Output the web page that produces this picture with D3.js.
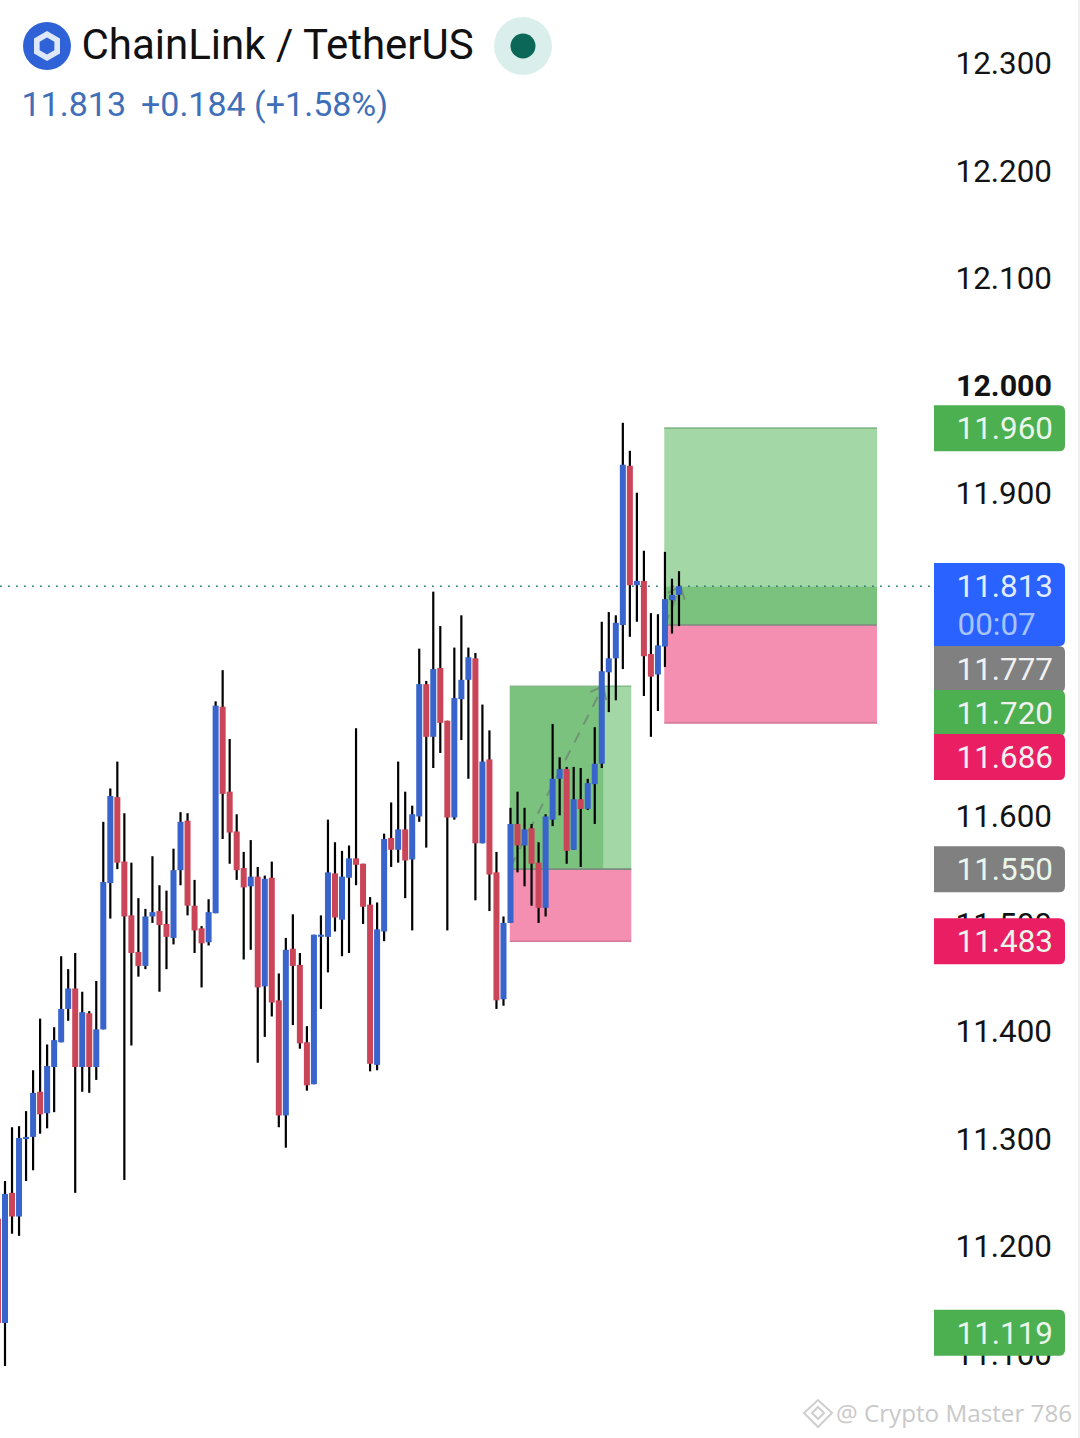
<!DOCTYPE html>
<html>
<head>
<meta charset="utf-8">
<script src="https://cdnjs.cloudflare.com/ajax/libs/d3/7.8.5/d3.min.js"></script>
<style>html,body{margin:0;padding:0;background:#fff}svg{display:block}text{font-family:Roboto,sans-serif}</style>
</head>
<body>
<svg id="c" width="1080" height="1438"></svg>
<script>
// candle index runs from -1 (clipped at the left edge) to 96
const opens=[11.225,11.128,11.249,11.227,11.299,11.301,11.343,11.323,11.366,11.389,11.420,11.439,11.366,11.416,11.366,11.401,11.537,11.617,11.557,11.507,11.473,11.460,11.506,11.511,11.499,11.486,11.549,11.595,11.516,11.495,11.482,11.509,11.701,11.622,11.585,11.551,11.534,11.543,11.441,11.542,11.428,11.321,11.476,11.461,11.389,11.350,11.488,11.487,11.546,11.503,11.542,11.560,11.555,11.517,11.368,11.492,11.579,11.568,11.587,11.559,11.599,11.722,11.673,11.737,11.688,11.598,11.708,11.726,11.746,11.574,11.652,11.547,11.429,11.500,11.592,11.572,11.588,11.556,11.514,11.596,11.634,11.643,11.568,11.615,11.606,11.629,11.648,11.733,11.746,11.777,11.925,11.814,11.818,11.750,11.731,11.757,11.800,11.805];
const highs=[11.240,11.260,11.310,11.311,11.325,11.363,11.411,11.387,11.403,11.469,11.457,11.472,11.436,11.418,11.446,11.594,11.625,11.650,11.602,11.556,11.523,11.513,11.562,11.535,11.530,11.569,11.603,11.602,11.540,11.497,11.522,11.706,11.735,11.671,11.601,11.566,11.577,11.552,11.544,11.557,11.453,11.486,11.508,11.472,11.404,11.489,11.507,11.596,11.575,11.567,11.572,11.681,11.555,11.524,11.519,11.583,11.612,11.650,11.622,11.609,11.755,11.725,11.808,11.776,11.688,11.756,11.786,11.756,11.751,11.703,11.679,11.566,11.506,11.607,11.622,11.607,11.592,11.575,11.601,11.685,11.654,11.645,11.645,11.644,11.634,11.682,11.780,11.789,11.786,11.965,11.939,11.900,11.846,11.788,11.787,11.845,11.820,11.827];
const lows=[11.120,11.088,11.211,11.209,11.260,11.270,11.304,11.309,11.324,11.389,11.409,11.249,11.343,11.342,11.354,11.401,11.504,11.550,11.261,11.386,11.450,11.457,11.500,11.436,11.457,11.480,11.535,11.507,11.472,11.440,11.479,11.509,11.578,11.555,11.540,11.466,11.475,11.370,11.394,11.413,11.310,11.291,11.405,11.383,11.344,11.350,11.420,11.454,11.492,11.469,11.472,11.535,11.499,11.362,11.363,11.483,11.552,11.556,11.523,11.493,11.594,11.570,11.644,11.658,11.493,11.596,11.670,11.634,11.521,11.574,11.511,11.420,11.423,11.500,11.547,11.534,11.516,11.500,11.506,11.590,11.600,11.555,11.568,11.552,11.605,11.592,11.644,11.696,11.707,11.736,11.766,11.780,11.711,11.673,11.697,11.738,11.769,11.776];
const closes=[11.128,11.248,11.227,11.300,11.301,11.342,11.322,11.367,11.391,11.420,11.439,11.366,11.417,11.366,11.401,11.538,11.618,11.556,11.506,11.472,11.460,11.506,11.510,11.498,11.487,11.549,11.594,11.516,11.493,11.481,11.510,11.702,11.620,11.584,11.549,11.533,11.543,11.440,11.541,11.426,11.321,11.475,11.460,11.388,11.349,11.489,11.489,11.547,11.505,11.543,11.560,11.554,11.515,11.369,11.494,11.578,11.568,11.587,11.558,11.601,11.722,11.673,11.736,11.686,11.598,11.709,11.726,11.747,11.574,11.650,11.545,11.428,11.500,11.592,11.572,11.587,11.555,11.514,11.599,11.634,11.643,11.567,11.615,11.606,11.630,11.648,11.734,11.746,11.779,11.926,11.814,11.818,11.748,11.729,11.758,11.801,11.805,11.813];
const axisTicks=[12.3,12.2,12.1,12.0,11.9,11.8,11.7,11.6,11.5,11.4,11.3,11.2,11.1];
const lastPrice=11.813, countdown="00:07";
const titleText="ChainLink / TetherUS";
const quoteText=["11.813","+0.184 (+1.58%)"];
const watermark="@ Crypto Master 786";
// position tools: start index, end index, split index, stop, entry, target
const leftTool={x0:71.9,x1:89.2,split:85.2,stop:11.483,entry:11.550,target:11.720};
const rightTool={x0:93.9,x1:124.2,stop:11.686,entry:11.777,target:11.960};

const svg=d3.select("#c");
const x=d3.scaleLinear().domain([-1,96]).range([-2.02,679]);
const y=d3.scaleLinear().domain([12.3,11.1]).range([62.5,1353.1]);

// position tools
function band(g,a,b,t,v,fill){g.append("rect").attr("x",x(a)).attr("width",x(b)-x(a)).attr("y",y(t)).attr("height",y(v)-y(t)).attr("fill",fill);}
function hline(g,a,b,v,col){g.append("line").attr("x1",x(a)).attr("x2",x(b)).attr("y1",y(v)).attr("y2",y(v)).attr("stroke",col).attr("stroke-width",1.6);}
const tools=svg.append("g");
const lightG="#a3d7a6",darkG="#7cc27f",pink="#f48fb1";
band(tools,leftTool.x0,leftTool.x1,leftTool.target,leftTool.entry,lightG);
band(tools,leftTool.x0,leftTool.split,leftTool.target,leftTool.entry,darkG);
band(tools,leftTool.x0,leftTool.x1,leftTool.entry,leftTool.stop,pink);
hline(tools,leftTool.x0,leftTool.x1,leftTool.target,"#84b988");
hline(tools,leftTool.x0,leftTool.x1,leftTool.entry,"#7f8a7f");
hline(tools,leftTool.x0,leftTool.x1,leftTool.stop,"#d57b9a");
band(tools,rightTool.x0,rightTool.x1,rightTool.target,lastPrice,lightG);
band(tools,rightTool.x0,rightTool.x1,lastPrice,rightTool.entry,darkG);
band(tools,rightTool.x0,rightTool.x1,rightTool.entry,rightTool.stop,pink);
hline(tools,rightTool.x0,rightTool.x1,rightTool.target,"#84b988");
hline(tools,rightTool.x0,rightTool.x1,rightTool.entry,"#7f8a7f");
hline(tools,rightTool.x0,rightTool.x1,rightTool.stop,"#d57b9a");

// last price dotted line
svg.append("line").attr("x1",0).attr("x2",934).attr("y1",y(lastPrice)).attr("y2",y(lastPrice))
  .attr("stroke","#2f7f7a").attr("stroke-width",1.6).attr("stroke-dasharray","1.8 6.2");

// dashed tool arrows
function arrow(i0,p0,i1,p1){
  const g=svg.append("g").attr("stroke","#6f8a74").attr("fill","none").attr("stroke-width",2).attr("opacity",.85);
  g.append("line").attr("x1",x(i0)).attr("y1",y(p0)).attr("x2",x(i1)).attr("y2",y(p1)).attr("stroke-dasharray","11 9");
  const a=Math.atan2(y(p1)-y(p0),x(i1)-x(i0));
  [2.45,-2.45].forEach(d=>g.append("line").attr("x1",x(i1)).attr("y1",y(p1))
    .attr("x2",x(i1)+14*Math.cos(a+d)).attr("y2",y(p1)+14*Math.sin(a+d)));
}
arrow(72,11.552,85.2,11.720);
arrow(94,11.777,96.2,11.813);

// candles
const idx=d3.range(opens.length);
const cg=svg.append("g");
cg.selectAll("line.w").data(idx).join("line").attr("class","w")
  .attr("x1",i=>x(i-1)).attr("x2",i=>x(i-1)).attr("y1",i=>y(highs[i])).attr("y2",i=>y(lows[i]))
  .attr("stroke","#000").attr("stroke-width",2.2);
cg.selectAll("rect").data(idx).join("rect")
  .attr("x",i=>x(i-1)-3).attr("width",6)
  .attr("y",i=>y(Math.max(opens[i],closes[i])))
  .attr("height",i=>Math.max(2,Math.abs(y(opens[i])-y(closes[i]))))
  .attr("fill",i=>closes[i]>=opens[i]?"#3864cc":"#cb4559");

// price axis
const axis=d3.axisRight(y).tickValues(axisTicks).tickFormat(d3.format(".3f")).tickSize(0).tickPadding(0);
const ag=svg.append("g").attr("transform","translate(1052,0)").call(axis);
ag.select(".domain").remove();
ag.selectAll("text").attr("text-anchor","end").attr("x",0).attr("dy","0.355em")
  .style("font-family","Roboto,sans-serif").style("font-size",d=>d===12?"30.4px":"31.4px").attr("fill","#131313")
  .style("font-weight",d=>d===12?"700":"400");

// price labels
function tag(cy,h,fill){
  const l=934,r=1065,t=cy-h/2,b=cy+h/2,q=6;
  svg.append("path").attr("fill",fill)
   .attr("d",`M${l},${t}H${r-q}Q${r},${t} ${r},${t+q}V${b-q}Q${r},${b} ${r-q},${b}H${l}Z`);
}
function tagText(s,cy,fill){
  svg.append("text").attr("x",1053).attr("y",cy).attr("dy","0.355em").attr("text-anchor","end")
   .attr("fill",fill).style("font-size","31.4px").text(s);
}
const greenT="#4caf50",redT="#e91e63",grayT="#808080",blueT="#2962ff";
const lab=[
 {v:rightTool.target,f:greenT,c:y(rightTool.target)},
 {v:leftTool.entry,f:grayT,c:y(leftTool.entry)},
 {v:leftTool.stop,f:redT,c:y(leftTool.stop)},
 {v:11.119,f:greenT,c:y(11.119)}
];
lab.forEach(d=>{tag(d.c,46,d.f);tagText(d.v.toFixed(3),d.c,"#eaf6ea");});
// current price block and the labels pushed below it
tag(604.5,83,blueT);
tagText(lastPrice.toFixed(3),y(lastPrice),"#e3edff");
svg.append("text").attr("x",957.5).attr("y",624).attr("dy","0.355em").attr("fill","#a8c4ff").style("font-size","31.4px").text(countdown);
[[rightTool.entry,grayT],[leftTool.target,greenT],[rightTool.stop,redT]].forEach((d,k)=>{
  const c=669+44*k; tag(c,46,d[1]); tagText(d[0].toFixed(3),c,"#f1f1f1");
});

// header
const head=svg.append("g");
head.append("circle").attr("cx",47).attr("cy",46).attr("r",24).attr("fill","#2f62d6");
const hex=(r)=>d3.range(6).map(k=>{const a=Math.PI/6+k*Math.PI/3;return [47+r*Math.cos(a),46+r*Math.sin(a)];});
head.append("polygon").attr("points",hex(15).join(" ")).attr("fill","#dfe8fb");
head.append("polygon").attr("points",hex(8.5).join(" ")).attr("fill","#2f62d6");
svg.append("text").attr("x",81.5).attr("y",59).attr("fill","#111").style("font-size","42px").text(titleText);
head.append("circle").attr("cx",523).attr("cy",46).attr("r",29).attr("fill","#daefec");
head.append("circle").attr("cx",523).attr("cy",46).attr("r",12.5).attr("fill","#0b6758");
svg.append("text").attr("x",21.5).attr("y",116).attr("fill","#3f6fb8").style("font-size","34px").text(quoteText[0]);
svg.append("text").attr("x",141).attr("y",116).attr("fill","#3f6fb8").style("font-size","34px").text(quoteText[1]);

// right edge + watermark
svg.append("rect").attr("x",1078).attr("y",0).attr("width",2).attr("height",1438).attr("fill","#efefef");
const wm=svg.append("g").attr("fill","none").attr("stroke","#cfcfcf").attr("stroke-width",2);
wm.append("path").attr("d","M818,1400L832,1413L818,1427L804,1413Z");
wm.append("path").attr("d","M818,1407L824,1413L818,1419L812,1413Z");
svg.append("text").attr("x",836).attr("y",1422).attr("fill","#c9c9c9")
  .style("font-family","'Open Sans',sans-serif").style("font-size","24.2px").text(watermark);
</script>
</body>
</html>
